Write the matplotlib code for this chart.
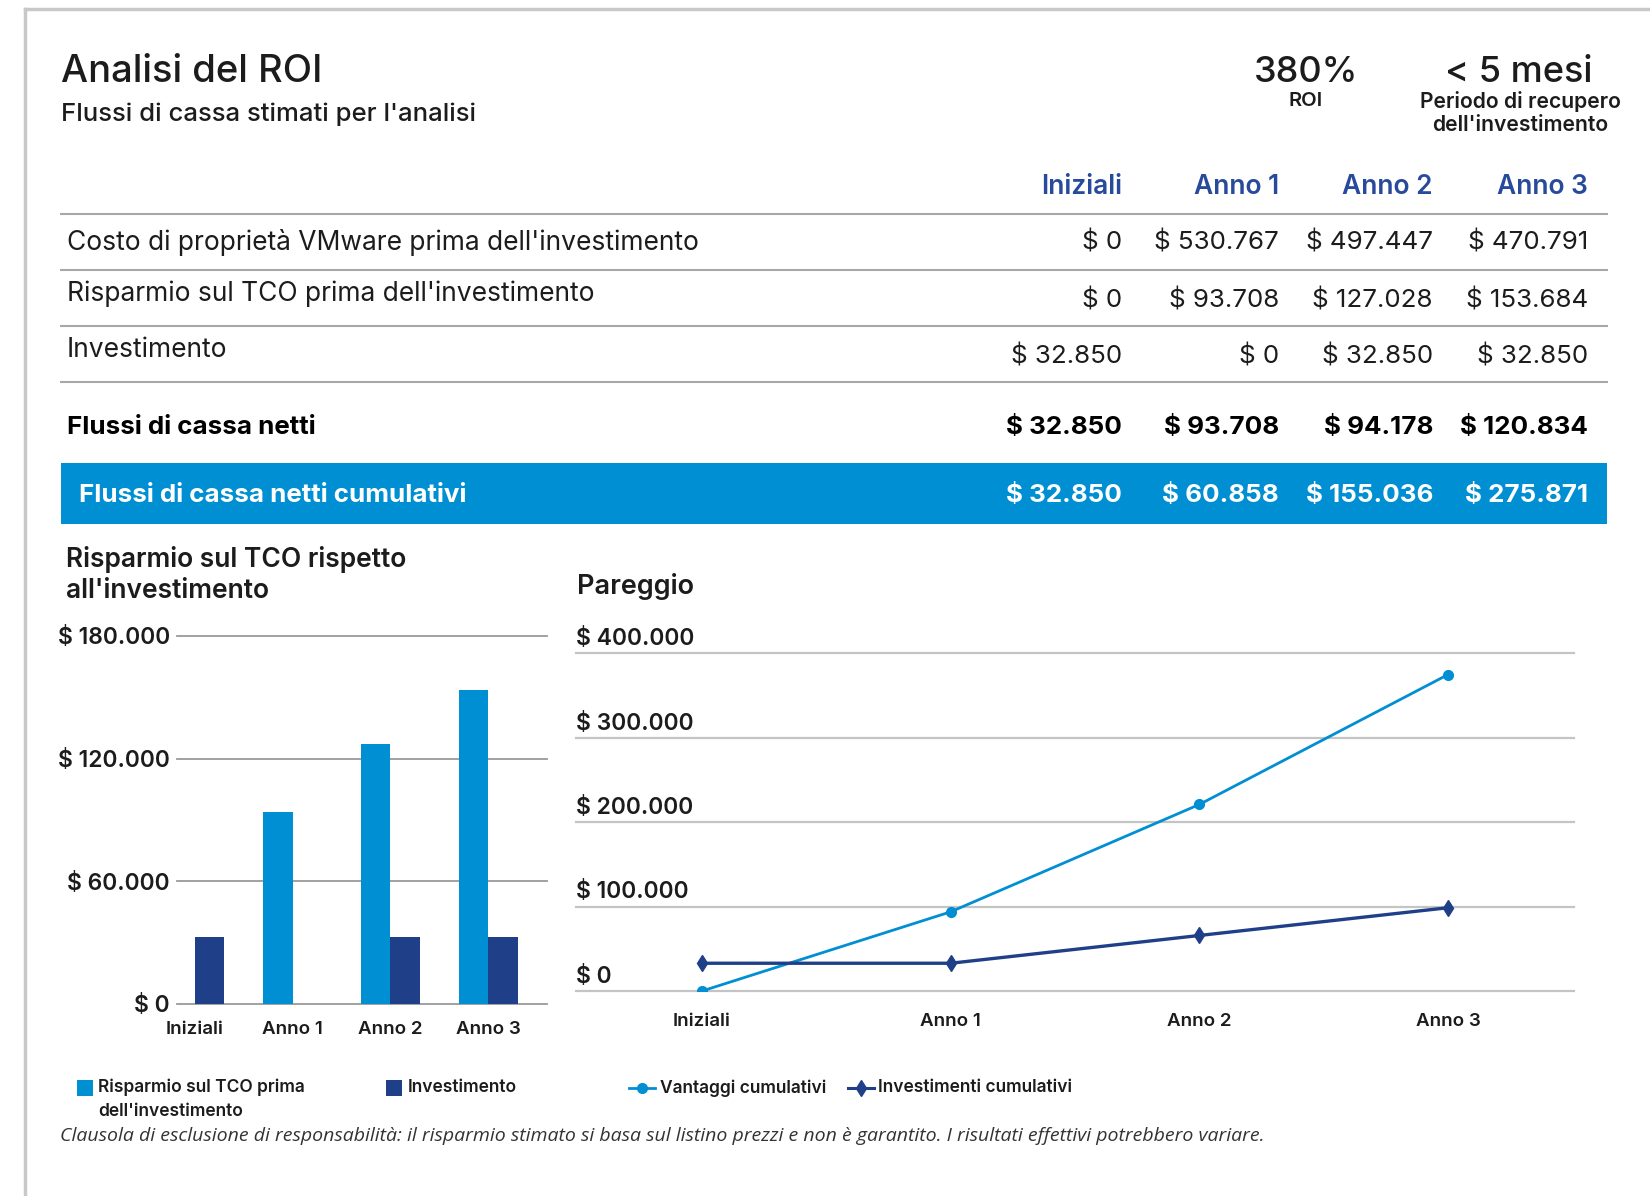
import matplotlib
matplotlib.use("Agg")
import matplotlib.pyplot as plt
from matplotlib.patches import Rectangle
from matplotlib.transforms import blended_transform_factory, offset_copy

plt.rcParams['font.family'] = ['Inter', 'DejaVu Sans']

colonne = ["Iniziali", "Anno 1", "Anno 2", "Anno 3"]
voci_tabella = [
    "Costo di proprietà VMware prima dell'investimento",
    "Risparmio sul TCO prima dell'investimento",
    "Investimento",
]
costo_vmware = [0, 530767, 497447, 470791]
risparmio_tco = [0, 93708, 127028, 153684]
investimento = [32850, 0, 32850, 32850]
flussi_netti = [32850, 93708, 94178, 120834]
flussi_cumulativi = [32850, 60858, 155036, 275871]

vantaggi_cumulativi = [0, 93708, 220736, 374420]
investimenti_cumulativi = [32850, 32850, 65700, 98550]

tick_barre = [0, 60000, 120000, 180000]
tick_linee = [0, 100000, 200000, 300000, 400000]

W, H = 1650, 1196
BLU_CHIARO = '#008fd3'
BLU_SCURO = '#1f3f88'
BLU_TESTATA = '#284a9c'
NERO = '#1c1c1c'
FS_TAB = 18.7


def euro(v):
    return "$ " + f"{v:,}".replace(",", ".")


def rettangolo(x0, y0, x1, y1):
    return [x0 / W, 1 - y1 / H, (x1 - x0) / W, (y1 - y0) / H]


fig = plt.figure(figsize=(W / 100, H / 100), dpi=100)

# sfondo in coordinate pixel
bg = fig.add_axes([0, 0, 1, 1])
bg.set_xlim(0, W)
bg.set_ylim(H, 0)
bg.axis('off')

# cornice
bg.plot([25, W], [9, 9], color='#c8c8c8', lw=2.5)
bg.plot([25, 25], [9, H], color='#c8c8c8', lw=2.5)

# intestazione
bg.text(61, 72, "Analisi del ROI", fontsize=27.5, color=NERO, va='center', fontweight='medium')
bg.text(61, 114, "Flussi di cassa stimati per l'analisi", fontsize=18.5, color=NERO, va='center',
        fontweight='medium')
bg.text(1306, 72, "380%", fontsize=26, color=NERO, va='center', ha='center', fontweight='medium')
bg.text(1306, 101, "ROI", fontsize=14.5, color=NERO, va='center', ha='center', fontweight='semibold')
bg.text(1519, 72, "< 5 mesi", fontsize=26, color=NERO, va='center', ha='center', fontweight='medium')
bg.text(1520, 101, "Periodo di recupero", fontsize=15.2, color=NERO, va='center', ha='center',
        fontweight='semibold')
bg.text(1520, 125, "dell'investimento", fontsize=15.2, color=NERO, va='center', ha='center',
        fontweight='semibold')

# tabella
x_col = [1122, 1279, 1433, 1588]
for xc, c in zip(x_col, colonne):
    bg.text(xc, 187, c, fontsize=19, color=BLU_TESTATA, ha='right', va='center', fontweight='semibold')

for y in [214, 270, 326, 382]:
    bg.plot([61, 1607], [y, y], color='#a8a8a8', lw=1.5)

righe_valori = [costo_vmware, risparmio_tco, investimento]
y_etichette = [242, 294, 350]
y_valori = [242, 300, 356]
for nome, valori, ye, yv in zip(voci_tabella, righe_valori, y_etichette, y_valori):
    bg.text(67, ye, nome, fontsize=19, color=NERO, va='center')
    for xc, v in zip(x_col, valori):
        bg.text(xc, yv, euro(v), fontsize=FS_TAB, color=NERO, ha='right', va='center')

bg.text(67, 427, "Flussi di cassa netti", fontsize=FS_TAB, color='black', va='center', fontweight='bold')
for xc, v in zip(x_col, flussi_netti):
    bg.text(xc, 427, euro(v), fontsize=FS_TAB, color='black', ha='right', va='center', fontweight='bold')

bg.add_patch(Rectangle((61, 463), 1546, 61, color=BLU_CHIARO, lw=0))
bg.text(79, 495, "Flussi di cassa netti cumulativi", fontsize=FS_TAB, color='white', va='center',
        fontweight='bold')
for xc, v in zip(x_col, flussi_cumulativi):
    bg.text(xc, 495, euro(v), fontsize=FS_TAB, color='white', ha='right', va='center', fontweight='bold')

# titoli dei grafici
bg.text(66, 575, "Risparmio sul TCO rispetto\nall'investimento", fontsize=19, color=NERO,
        va='center', fontweight='semibold', linespacing=1.25)
bg.text(577, 587, "Pareggio", fontsize=19.5, color=NERO, va='center', fontweight='semibold')

# --- grafico a barre ---
ax1 = fig.add_axes(rettangolo(177, 636, 547, 1004))
x = list(range(len(colonne)))
larg = 0.3
ax1.bar([i - larg / 2 for i in x], risparmio_tco, larg, color=BLU_CHIARO, zorder=2)
ax1.bar([i + larg / 2 for i in x], investimento, larg, color=BLU_SCURO, zorder=2)
for v in tick_barre:
    ax1.axhline(v, color='#9a9a9a', lw=1.3, zorder=1, clip_on=False)
ax1.set_ylim(0, 180000)
ax1.set_xlim(-0.18, 3.6)
ax1.set_yticks(tick_barre)
ax1.set_yticklabels([euro(v) for v in tick_barre], fontsize=16.5, fontweight='semibold', color=NERO)
ax1.set_xticks(x)
ax1.set_xticklabels(colonne, fontsize=13.5, fontweight='semibold', color=NERO)
ax1.tick_params(length=0)
ax1.tick_params(axis='y', pad=5)
ax1.tick_params(axis='x', pad=12)
for s in ax1.spines.values():
    s.set_visible(False)
ax1.patch.set_alpha(0)

# --- grafico a linee ---
ax2 = fig.add_axes(rettangolo(576, 653, 1574, 991))
for v in tick_linee:
    ax2.axhline(v, color='#c4c4c4', lw=1.6, zorder=1, clip_on=False)
ax2.plot(x, vantaggi_cumulativi, color=BLU_CHIARO, lw=2, marker='o', ms=7, zorder=3)
ax2.plot(x, investimenti_cumulativi, color=BLU_SCURO, lw=2.4, marker='d', ms=8, zorder=3)
ax2.set_ylim(0, 400000)
ax2.set_xlim(-0.507, 3.507)
ax2.set_yticks([])
ax2.set_xticks(x)
ax2.set_xticklabels(colonne, fontsize=13.5, fontweight='semibold', color=NERO)
ax2.tick_params(length=0, axis='x', pad=16)
trans = offset_copy(blended_transform_factory(ax2.transAxes, ax2.transData), fig=fig, y=3, units='dots')
for v in tick_linee:
    ax2.text(0, v, euro(v), transform=trans, fontsize=16.5, fontweight='semibold', color=NERO,
             ha='left', va='bottom')
for s in ax2.spines.values():
    s.set_visible(False)
ax2.patch.set_alpha(0)

# --- legenda ---
bg.add_patch(Rectangle((77, 1080), 16, 16, color=BLU_CHIARO, lw=0))
bg.text(98, 1078, "Risparmio sul TCO prima\ndell'investimento", fontsize=12.5, color=NERO,
        va='top', fontweight='semibold', linespacing=1.55)
bg.add_patch(Rectangle((386, 1080), 16, 16, color=BLU_SCURO, lw=0))
bg.text(408, 1088, "Investimento", fontsize=12.5, color=NERO, va='center', fontweight='semibold')
bg.plot([629, 655], [1088, 1088], color=BLU_CHIARO, lw=2)
bg.plot([642], [1088], color=BLU_CHIARO, marker='o', ms=7)
bg.text(660, 1088, "Vantaggi cumulativi", fontsize=12.5, color=NERO, va='center', fontweight='semibold')
bg.plot([848, 874], [1088, 1088], color=BLU_SCURO, lw=2.2)
bg.plot([861], [1088], color=BLU_SCURO, marker='d', ms=8)
bg.text(878, 1088, "Investimenti cumulativi", fontsize=12.5, color=NERO, va='center', fontweight='semibold')

bg.text(60, 1136, "Clausola di esclusione di responsabilità: il risparmio stimato si basa sul listino prezzi "
        "e non è garantito. I risultati effettivi potrebbero variare.", fontsize=14, color='#333333',
        va='center', style='italic', family=['Open Sans', 'DejaVu Sans'])

fig.savefig("out.png", dpi=100)
